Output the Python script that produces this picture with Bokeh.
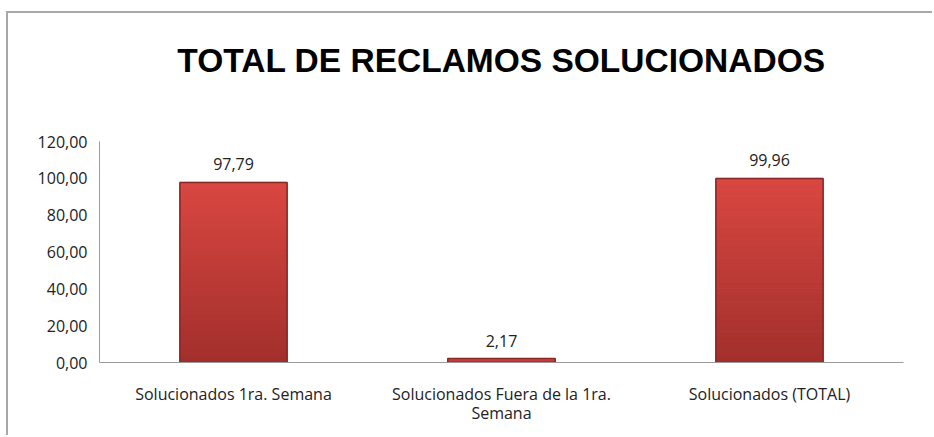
from bokeh.plotting import figure
from bokeh.models import (ColumnDataSource, LabelSet, Title, CustomJSTickFormatter,
                          FactorRange, CategoricalAxis)
from bokeh.core.properties import value
from bokeh.embed import file_html
from bokeh.resources import INLINE

# ---- data ----
categories = ["Solucionados 1ra. Semana", "Solucionados Fuera de la 1ra. Semana", "Solucionados (TOTAL)"]
category_labels = ["Solucionados 1ra. Semana", "Solucionados Fuera de la 1ra.\nSemana", "Solucionados (TOTAL)"]
values = [97.79, 2.17, 99.96]
y_ticks = [0, 20, 40, 60, 80, 100, 120]
title_text = "TOTAL DE RECLAMOS SOLUCIONADOS"

FONT = "Open Sans"

p = figure(
    x_range=FactorRange(*categories, range_padding=0),
    y_range=(0, 120),
    width=926, height=424, title=None,
    output_backend="svg", toolbar_location=None,
    min_border_left=91, min_border_right=31, min_border_top=128, min_border_bottom=75,
)
p.styles = {"margin-left": "6px", "margin-top": "11px",
            "border-top": "2px solid #a8a8a8", "border-left": "2px solid #a8a8a8"}
p.outline_line_color = None
p.background_fill_color = "white"
p.border_fill_color = "white"
p.grid.grid_line_color = None

# spacer keeps the title well above the plot frame
p.add_layout(Title(text=" ", text_font_size="1px", standoff=60), "above")
p.add_layout(Title(text=title_text, align="center", text_font="Liberation Sans",
                   text_font_style="bold", text_font_size="33.5px", text_color="black",
                   standoff=0), "above")

# gradient bars built from the data values
n = 30
def mix(c1, c2, t):
    return "#%02x%02x%02x" % tuple(int(round(a + (b - a) * t)) for a, b in zip(c1, c2))
top_c = (0xd9, 0x47, 0x41)
bot_c = (0xa2, 0x2f, 0x2c)
xs, bots, tops, cols = [], [], [], []
for c, v in zip(categories, values):
    for k in range(n):
        xs.append(c)
        bots.append(v * k / n)
        tops.append(v * (k + 1) / n)
        cols.append(mix(bot_c, top_c, (k + 0.5) / n))
seg = ColumnDataSource(dict(x=xs, bottom=bots, top=tops, color=cols))
p.vbar(x="x", bottom="bottom", top="top", width=0.4, source=seg,
       fill_color="color", line_color="color", line_width=1)

src = ColumnDataSource(dict(x=categories, top=values,
                            label=[("%.2f" % v).replace(".", ",") for v in values]))
p.vbar(x="x", top="top", width=0.4, source=src, fill_color=None, line_color="#8a2624", line_width=1.5)

labels = LabelSet(x="x", y="top", text="label", source=src, y_offset=12,
                  text_align="center", text_baseline="bottom",
                  text_font=value(FONT), text_font_size="16px", text_color="#222222")
p.add_layout(labels)

lines = [lbl.split("\n") for lbl in category_labels]
line1 = {c: l[0] for c, l in zip(categories, lines)}
line2 = {c: (l[1] if len(l) > 1 else " ") for c, l in zip(categories, lines)}

js = ("const v = (m instanceof Map) ? m.get(tick) : m[tick];"
      "return (v === undefined || v === null) ? tick : v;")

xax = p.xaxis[0]
yax = p.yaxis[0]
xax2 = CategoricalAxis()
for ax in (xax, yax, xax2):
    ax.axis_line_color = "#9a9a9a"
    ax.major_tick_line_color = None
    ax.minor_tick_line_color = None
    ax.major_tick_out = 0
    ax.major_tick_in = 0
    ax.major_label_text_font = FONT
    ax.major_label_text_font_size = "16px"
    ax.major_label_text_color = "#222222"
yax.ticker = y_ticks
yax.formatter = CustomJSTickFormatter(code="return tick.toFixed(2).replace('.', ',');")
yax.major_label_standoff = 12
xax.major_label_standoff = 20
xax.formatter = CustomJSTickFormatter(args=dict(m=line1), code=js)
xax2.axis_line_color = None
xax2.major_label_standoff = -6
xax2.formatter = CustomJSTickFormatter(args=dict(m=line2), code=js)
p.add_layout(xax2, "below")

open("out.html", "w").write(file_html(p, INLINE))
